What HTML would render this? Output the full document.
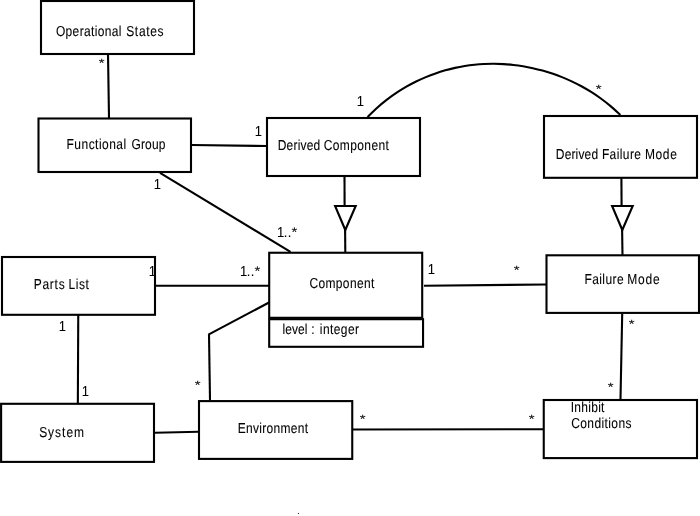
<!DOCTYPE html>
<html lang="en">
<head>
<meta charset="utf-8">
<title>Class diagram</title>
<style>
html,body{margin:0;padding:0;background:#fff;}
body{width:700px;height:516px;overflow:hidden;}
svg{display:block;}
svg text{font-family:"Liberation Sans",sans-serif;font-size:13px;fill:#000;text-rendering:geometricPrecision;stroke:#000;stroke-width:0.08px;}
.t{opacity:0.999;}
svg text.w{font-size:12px;}
.b{fill:#fff;stroke:#000;stroke-width:2.1;}
.l{fill:none;stroke:#000;stroke-width:2.1;}
</style>
</head>
<body>
<svg width="700" height="516" viewBox="0 0 700 516">
<rect x="0" y="0" width="700" height="516" fill="#fff"/>
<line class="l" x1="108" y1="54" x2="109" y2="118"/>
<line class="l" x1="192" y1="145" x2="267" y2="146"/>
<line class="l" x1="160" y1="172.8" x2="290.5" y2="251.8"/>
<line class="l" x1="344.5" y1="176" x2="344.6" y2="206"/>
<line class="l" x1="345.1" y1="229" x2="345.3" y2="252"/>
<line class="l" x1="621.4" y1="178" x2="621.6" y2="206"/>
<line class="l" x1="622.1" y1="229" x2="622.5" y2="255"/>
<line class="l" x1="156" y1="285.8" x2="269" y2="285.8"/>
<line class="l" x1="424" y1="285.75" x2="546" y2="284.5"/>
<line class="l" x1="78.25" y1="315" x2="77.85" y2="404"/>
<line class="l" x1="269" y1="302.5" x2="208.4" y2="334.6"/>
<line class="l" x1="209" y1="334.25" x2="210" y2="400"/>
<line class="l" x1="155" y1="432.75" x2="199" y2="431.75"/>
<line class="l" x1="353" y1="429.5" x2="543" y2="429.2"/>
<line class="l" x1="622.2" y1="314" x2="620.5" y2="399"/>
<path class="l" d="M367.50,117.00 C369.12,115.45 373.98,110.59 377.22,107.71 C380.46,104.82 383.71,102.18 386.95,99.68 C390.19,97.19 393.43,94.89 396.67,92.73 C399.91,90.57 403.15,88.58 406.39,86.71 C409.63,84.85 412.87,83.13 416.12,81.53 C419.36,79.93 422.60,78.47 425.84,77.11 C429.08,75.75 432.32,74.52 435.56,73.39 C438.80,72.26 442.04,71.25 445.28,70.33 C448.53,69.41 451.77,68.60 455.01,67.89 C458.25,67.17 461.49,66.56 464.73,66.03 C467.97,65.51 471.21,65.09 474.45,64.75 C477.69,64.41 480.94,64.16 484.18,64.01 C487.42,63.85 490.66,63.78 493.90,63.80 C497.14,63.81 500.38,63.92 503.62,64.11 C506.86,64.30 510.11,64.58 513.35,64.94 C516.59,65.30 519.83,65.75 523.07,66.29 C526.31,66.83 529.55,67.45 532.79,68.16 C536.03,68.88 539.27,69.68 542.52,70.58 C545.76,71.48 549.00,72.47 552.24,73.56 C555.48,74.65 558.72,75.83 561.96,77.13 C565.20,78.43 568.44,79.82 571.68,81.34 C574.93,82.86 578.17,84.49 581.41,86.26 C584.65,88.02 587.89,89.90 591.13,91.95 C594.37,93.99 597.61,96.16 600.85,98.52 C604.09,100.89 607.34,103.39 610.58,106.14 C613.82,108.88 618.68,113.52 620.30,115.00"/>
<rect class="b" x="41" y="1" width="153" height="53"/>
<rect class="b" x="38.5" y="118.5" width="152.5" height="53.5"/>
<rect class="b" x="267" y="118" width="153" height="58"/>
<rect class="b" x="544" y="116" width="153" height="61.8"/>
<rect class="b" x="2" y="257" width="153" height="57.8"/>
<rect class="b" x="269.2" y="252.75" width="153" height="65.05"/>
<rect class="b" x="269.2" y="319.2" width="153.85" height="27.6"/>
<rect class="b" x="546.5" y="255.3" width="152.5" height="57.6"/>
<rect class="b" x="1.1" y="403.8" width="152.9" height="58.1"/>
<rect class="b" x="199" y="401.1" width="153.25" height="57.8"/>
<rect class="b" x="543.75" y="400" width="153.25" height="58.1"/>
<polygon class="b" points="335.1,206 355.7,206 345.3,230"/>
<polygon class="b" points="612.1,206 632.7,206 622.3,230"/>
<g class="t">
<text class="w" transform="translate(0,36.44) scale(1,1.2025)"><tspan x="55.88" style="letter-spacing:0.358px">Operational</tspan> <tspan x="126.20" style="letter-spacing:0.676px">States</tspan></text>
<text class="w" transform="translate(0,148.55) scale(1,1.2025)"><tspan x="66.55" style="letter-spacing:0.467px">Functional</tspan> <tspan x="131.38" style="letter-spacing:0.188px">Group</tspan></text>
<text class="w" transform="translate(0,149.87) scale(1,1.2025)"><tspan x="277.73" style="letter-spacing:0.205px">Derived</tspan> <tspan x="323.78" style="letter-spacing:0.384px">Component</tspan></text>
<text class="w" transform="translate(0,159.1) scale(1,1.2025)"><tspan x="555.87" style="letter-spacing:0.143px">Derived</tspan> <tspan x="601.90" style="letter-spacing:0.397px">Failure</tspan> <tspan x="645.00" style="letter-spacing:0.600px">Mode</tspan></text>
<text class="w" transform="translate(0,289) scale(1,1.2025)"><tspan x="33.64" style="letter-spacing:0.765px">Parts</tspan> <tspan x="68.60" style="letter-spacing:0.560px">List</tspan></text>
<text class="w" transform="translate(0,288.2) scale(1,1.2025)"><tspan x="309.38" style="letter-spacing:0.365px">Component</tspan></text>
<text class="w" transform="translate(0,333.64) scale(1,1.2025)"><tspan x="282.60" style="letter-spacing:0.007px">level</tspan> <tspan x="311.18" style="letter-spacing:0.000px">:</tspan> <tspan x="319.85" style="letter-spacing:0.408px">integer</tspan></text>
<text class="w" transform="translate(0,283.64) scale(1,1.2025)"><tspan x="584.40" style="letter-spacing:0.423px">Failure</tspan> <tspan x="627.20" style="letter-spacing:0.783px">Mode</tspan></text>
<text class="w" transform="translate(0,437) scale(1,1.2025)"><tspan x="39.14" style="letter-spacing:0.990px">System</tspan></text>
<text class="w" transform="translate(0,433) scale(1,1.2025)"><tspan x="237.74" style="letter-spacing:0.301px">Environment</tspan></text>
<text class="w" transform="translate(0,411.75) scale(1,1.2025)"><tspan x="570.68" style="letter-spacing:0.292px">Inhibit</tspan></text>
<text class="w" transform="translate(0,427.8) scale(1,1.2025)"><tspan x="571.18" style="letter-spacing:0.398px">Conditions</tspan></text>
<text transform="translate(254.85,136) scale(1,1.11)">1</text>
<text transform="translate(153.85,189) scale(1,1.11)">1</text>
<text transform="translate(356.85,106) scale(1,1.11)">1</text>
<text transform="translate(148.85,276) scale(1,1.11)">1</text>
<text transform="translate(427.85,274) scale(1,1.11)">1</text>
<text transform="translate(58.85,331) scale(1,1.11)">1</text>
<text transform="translate(81.85,396) scale(1,1.11)">1</text>
<text transform="translate(0,237) scale(1,1.11)"><tspan x="276.88">1</tspan><tspan x="283.69 287.75">..</tspan><tspan x="291.62" dy="-1.35" style="font-size:11px" textLength="5.75" lengthAdjust="spacingAndGlyphs">*</tspan></text>
<text transform="translate(0,276) scale(1,1.11)"><tspan x="239.88">1</tspan><tspan x="246.69 250.75">..</tspan><tspan x="254.62" dy="-1.35" style="font-size:11px" textLength="5.75" lengthAdjust="spacingAndGlyphs">*</tspan></text>
<text transform="translate(98.625,67.225) scale(1.15,0.92)">*</text>
<text transform="translate(595.625,93.225) scale(1.15,0.92)">*</text>
<text transform="translate(513.625,274.125) scale(1.15,0.92)">*</text>
<text transform="translate(194.625,389.125) scale(1.15,0.92)">*</text>
<text transform="translate(359.625,423.125) scale(1.15,0.92)">*</text>
<text transform="translate(528.625,423.125) scale(1.15,0.92)">*</text>
<text transform="translate(607.625,391.125) scale(1.15,0.92)">*</text>
<text transform="translate(628.625,328.125) scale(1.15,0.92)">*</text>
</g>
<rect x="298" y="513" width="1" height="1" fill="#222"/>
</svg>
</body>
</html>
